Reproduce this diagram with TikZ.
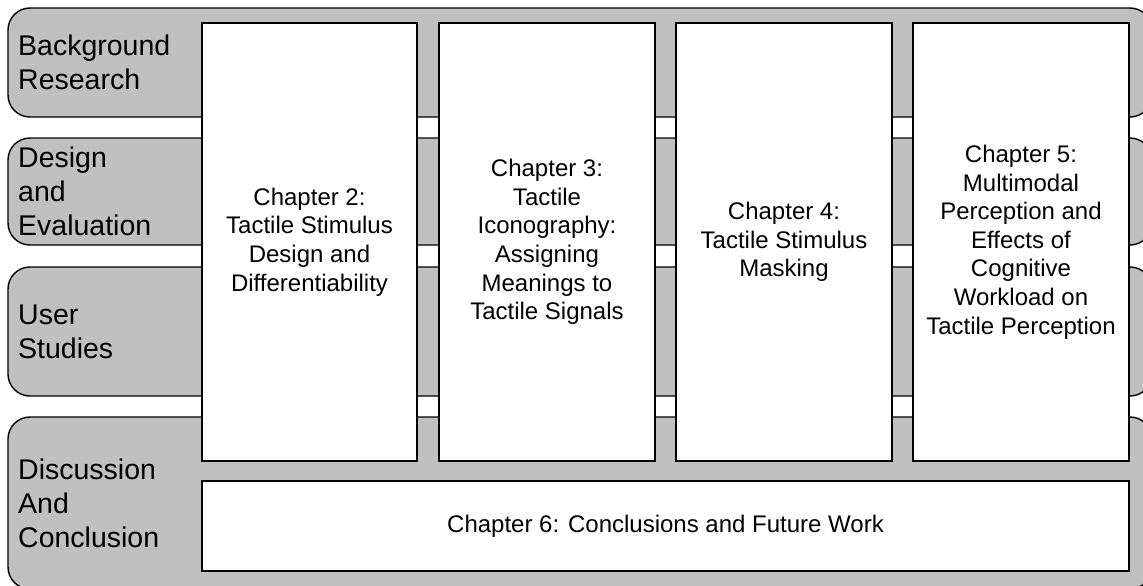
\documentclass[tikz,border=0pt]{standalone}
\usepackage{fontspec}
\setmainfont{Liberation Sans}
\begin{document}
\begin{tikzpicture}[x=1pt,y=-1pt,
  band/.style={draw=black,fill=bandgray,line width=1.4pt,rounded corners=22pt},
  chapbox/.style={draw=black,fill=white,line width=1.3pt,inner sep=0pt,outer sep=0pt,align=center,
    font=\fontsize{24}{28.6}\selectfont},
  rowlabel/.style={anchor=west,align=left,inner sep=0pt,font=\fontsize{28.5}{34}\selectfont}]
\definecolor{bandgray}{HTML}{C0C0C0}
\useasboundingbox (0,0) rectangle (1143,586);
\clip (0,0) rectangle (1143,586);
% bands
\draw[band] (8,8) rectangle (1152,117);
\draw[band] (8,138) rectangle (1152,245);
\draw[band] (8,267) rectangle (1152,396);
\draw[band] (8,417) rectangle (1152,589);
% row labels
\node[rowlabel] (bg) at (18,62.5) {Background\\Research};
\node[rowlabel] (de) at (18,191.5) {Design\\and\\Evaluation};
\node[rowlabel] (us) at (18,331.5) {User\\Studies};
\node[rowlabel] (dc) at (18,503) {Discussion\\And\\Conclusion};
% chapter boxes
\node[chapbox,minimum width=215pt,minimum height=438pt] (ch2) at (309.5,242) {Chapter 2:\\Tactile Stimulus\\Design and\\Differentiability};
\node[chapbox,minimum width=216pt,minimum height=438pt] (ch3) at (547,242) {Chapter 3:\\Tactile\\Iconography:\\Assigning\\Meanings to\\Tactile Signals};
\node[chapbox,minimum width=216pt,minimum height=438pt] (ch4) at (784,242) {Chapter 4:\\Tactile Stimulus\\Masking};
\node[chapbox,minimum width=216pt,minimum height=438pt] (ch5) at (1021,242) {Chapter 5:\\Multimodal\\Perception and\\Effects of\\Cognitive\\Workload on\\Tactile Perception};
\node[chapbox,minimum width=927pt,minimum height=90pt] (ch6) at (665.5,526) {Chapter 6: Conclusions and Future Work};
\end{tikzpicture}
\end{document}
